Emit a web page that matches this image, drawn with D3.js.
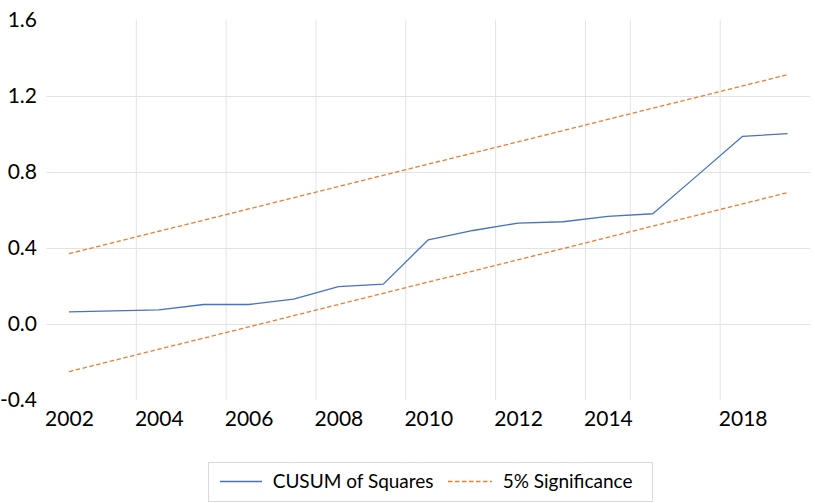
<!DOCTYPE html>
<html>
<head>
<meta charset="utf-8">
<script src="https://cdn.jsdelivr.net/npm/d3@7"></script>
<style>
  html, body { margin: 0; padding: 0; background: #ffffff; }
  svg { display: block; font-family: Lato, "Open Sans", sans-serif; }
</style>
</head>
<body>
<svg id="chart" width="815" height="503"></svg>
<script>
// ---- data ----
const categories = ["2002","2003","2004","2005","2006","2007","2008","2009","2010",
                    "2011","2012","2013","2014","2015","2016","2018","2019"];
const cusumSquares = [0.063, 0.068, 0.074, 0.102, 0.102, 0.130, 0.196, 0.209, 0.442,
                      0.491, 0.530, 0.537, 0.565, 0.579, 0.782, 0.986, 1.000];
const upperBound = [0.369, 0.428, 0.487, 0.545, 0.604, 0.663, 0.722, 0.781, 0.840,
                    0.898, 0.957, 1.016, 1.075, 1.134, 1.192, 1.251, 1.310];
const lowerBound = [-0.251, -0.192, -0.133, -0.075, -0.016, 0.043, 0.102, 0.161, 0.220,
                    0.278, 0.337, 0.396, 0.455, 0.514, 0.572, 0.631, 0.690];
const xTickLabels = ["2002","2004","2006","2008","2010","2012","2014","2018"];
const yTicks = [-0.4, 0.0, 0.4, 0.8, 1.2, 1.6];
const yGridTicks = [0.0, 0.4, 0.8, 1.2];
const xGridAfter = ["2003","2005","2007","2009","2011","2013","2014","2016"];
const seriesNames = ["CUSUM of Squares", "5% Significance"];

// ---- layout ----
const svg = d3.select("#chart");
const plotL = 46.5, plotR = 810, plotT = 19.5, plotB = 400;
const blue = "#4472C4", orange = "#ED7D31", grid = "#E3E3E3";

const x = d3.scalePoint().domain(categories).range([plotL, plotR]).padding(0.5);
const y = d3.scaleLinear().domain([-0.4, 1.6]).range([plotB, plotT]);
const step = x.step();

// gridlines
svg.append("g").selectAll("line").data(yGridTicks).join("line")
  .attr("x1", plotL).attr("x2", plotR)
  .attr("y1", d => Math.round(y(d)) + 0.5).attr("y2", d => Math.round(y(d)) + 0.5)
  .attr("stroke", grid).attr("stroke-width", 1);
svg.append("g").selectAll("line").data(xGridAfter).join("line")
  .attr("x1", d => x(d) + step / 2).attr("x2", d => x(d) + step / 2)
  .attr("y1", plotT).attr("y2", plotB)
  .attr("stroke", grid).attr("stroke-width", 1);

// axes
const xAxis = svg.append("g").attr("transform", `translate(0,${plotB})`)
  .call(d3.axisBottom(x).tickValues(xTickLabels).tickSize(0).tickPadding(11));
xAxis.select(".domain").remove();
xAxis.selectAll("text").attr("font-size", 21).attr("fill", "#000")
  .attr("font-family", "Lato, 'Open Sans', sans-serif");

const yAxis = svg.append("g").attr("transform", `translate(${plotL},0)`)
  .call(d3.axisLeft(y).tickValues(yTicks).tickFormat(d => d.toFixed(1)).tickSize(0).tickPadding(9.5));
yAxis.select(".domain").remove();
yAxis.selectAll("text").attr("font-size", 21).attr("fill", "#000")
  .attr("font-family", "Lato, 'Open Sans', sans-serif");

// lines
const line = d3.line().x((d, i) => x(categories[i])).y(d => y(d));
svg.append("path").datum(upperBound).attr("d", line)
  .attr("fill", "none").attr("stroke", orange).attr("stroke-width", 1.3).attr("stroke-dasharray", "4.5,2.5");
svg.append("path").datum(lowerBound).attr("d", line)
  .attr("fill", "none").attr("stroke", orange).attr("stroke-width", 1.3).attr("stroke-dasharray", "4.5,2.5");
svg.append("path").datum(cusumSquares).attr("d", line)
  .attr("fill", "none").attr("stroke", blue).attr("stroke-width", 1.3).attr("stroke-linejoin", "round");

// legend
const lg = svg.append("g");
lg.append("rect").attr("x", 208.5).attr("y", 462.5).attr("width", 444).attr("height", 39)
  .attr("fill", "#fff").attr("stroke", "#D9D9D9").attr("stroke-width", 1);
const items = [
  { name: seriesNames[0], color: blue, dash: null, x0: 220, x1: 262, tx: 272.7 },
  { name: seriesNames[1], color: orange, dash: "4.5,2.5", x0: 448, x1: 492, tx: 502.7 }
];
items.forEach(it => {
  lg.append("line").attr("x1", it.x0).attr("x2", it.x1).attr("y1", 481.5).attr("y2", 481.5)
    .attr("stroke", it.color).attr("stroke-width", 1.3).attr("stroke-dasharray", it.dash);
  lg.append("text").attr("x", it.tx).attr("y", 481.5).attr("dy", "0.35em")
    .attr("font-size", 19).attr("fill", "#000").text(it.name);
});
</script>
</body>
</html>
